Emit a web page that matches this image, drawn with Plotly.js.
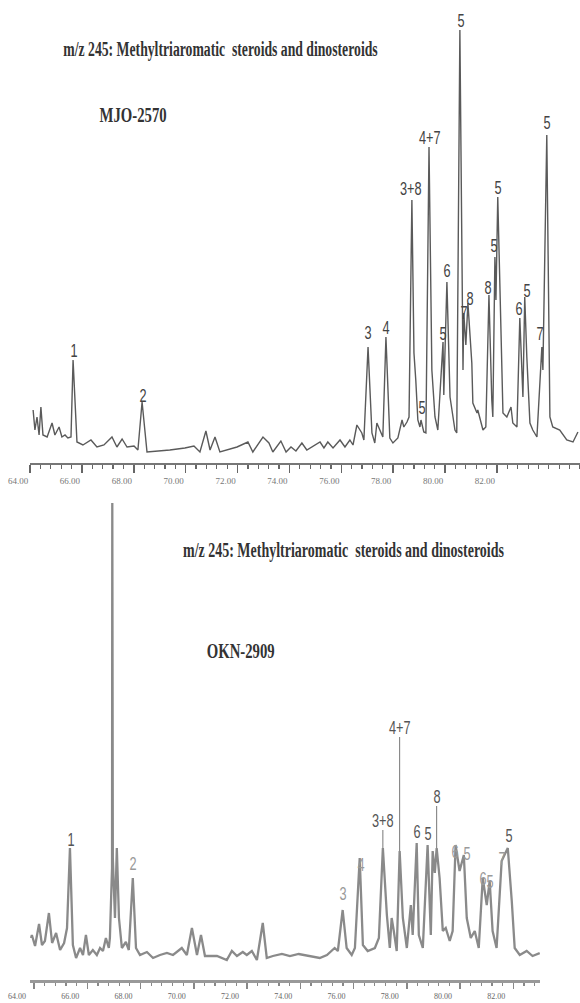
<!DOCTYPE html>
<html>
<head>
<meta charset="utf-8">
<script src="https://cdn.plot.ly/plotly-3.0.1.min.js"></script>
<style>
html,body{margin:0;padding:0;background:#fff;}
#chart{width:580px;height:1003px;}
</style>
</head>
<body>
<div id="chart"></div>
<script>
// ---------- DATA ----------
// Sample MJO-2570: retention time (min) and relative abundance (arbitrary units)
const topTime = [64.12,64.19,64.27,64.35,64.42,64.50,64.66,64.85,64.96,65.12,65.23,65.35,65.46,65.58,65.66,65.81,66.04,66.35,66.58,66.85,67.16,67.35,67.55,67.74,68.01,68.16,68.32,68.51,69.39,69.97,70.32,70.55,70.78,70.94,71.13,71.32,71.98,72.40,72.59,72.98,73.21,73.36,73.67,73.87,74.06,74.25,74.48,74.67,75.18,75.33,75.48,75.68,75.95,76.14,76.33,76.45,76.60,76.79,76.87,77.03,77.18,77.29,77.37,77.49,77.60,77.72,77.87,77.99,78.18,78.34,78.41,78.53,78.61,78.72,78.80,78.87,78.95,79.03,79.07,79.18,79.26,79.38,79.49,79.61,79.72,79.92,79.95,80.07,80.19,80.38,80.45,80.57,80.69,80.72,80.80,80.88,81.03,81.07,81.23,81.26,81.34,81.46,81.57,81.69,81.80,81.84,81.92,81.96,82.03,82.15,82.23,82.38,82.54,82.61,82.77,82.88,83.00,83.07,83.15,83.27,83.38,83.54,83.73,83.77,83.92,84.04,84.15,84.42,84.50,84.69,84.93,85.12];
const topAbund = [53,33,46,28,56,28,26,40,28,36,26,28,25,26,103,21,18,23,16,18,26,16,24,16,17,13,61,11,13,15,17,11,32,13,26,11,16,21,11,26,20,11,22,11,16,12,20,13,21,15,21,15,23,16,23,18,38,30,23,116,30,20,40,33,26,126,25,20,25,43,36,41,46,263,110,83,43,36,43,31,30,316,93,46,33,121,68,181,66,33,30,433,93,150,118,160,100,60,50,53,46,33,36,168,63,46,206,163,266,123,50,46,56,40,36,145,66,166,106,40,33,26,116,93,328,46,36,33,30,23,21,31];

// Sample OKN-2909
const botTime = [63.89,63.92,64.04,64.19,64.30,64.41,64.56,64.68,64.83,64.98,65.13,65.24,65.35,65.46,65.58,65.73,65.84,65.95,66.06,66.21,66.36,66.48,66.59,66.70,66.81,66.85,66.93,66.94,66.96,67.04,67.11,67.19,67.30,67.45,67.56,67.71,67.83,67.98,68.24,68.47,68.73,68.99,69.22,69.55,69.74,69.93,70.12,70.27,70.42,70.87,71.24,71.43,71.62,71.84,71.99,72.18,72.37,72.59,72.74,72.97,73.31,73.61,73.94,74.36,74.73,75.00,75.29,75.41,75.59,75.74,75.93,76.05,76.23,76.35,76.53,76.80,76.95,77.10,77.25,77.36,77.43,77.51,77.62,77.73,77.85,78.00,78.15,78.22,78.37,78.45,78.60,78.78,78.90,78.97,79.05,79.12,79.23,79.35,79.46,79.61,79.72,79.83,79.98,80.14,80.25,80.40,80.55,80.70,80.85,81.00,81.11,81.22,81.37,81.56,81.67,81.79,81.94,82.05,82.24,82.50,82.72,82.99];
const botAbund = [42,45,34,56,35,39,67,37,47,30,37,52,132,35,22,32,25,45,25,30,25,32,29,42,32,42,112,477,122,62,132,62,32,38,30,102,32,25,28,22,25,27,25,32,25,52,25,45,24,24,20,29,24,28,25,29,20,57,22,24,26,24,26,24,22,25,32,29,70,32,25,32,122,35,29,32,42,132,65,32,62,49,29,129,62,32,75,45,137,45,32,135,45,129,107,132,102,49,52,39,49,135,109,125,62,42,49,32,102,75,99,49,32,119,125,132,79,32,25,29,24,27];

// Axis tick labels (minutes)
const tickVals = [64,66,68,70,72,74,76,78,80,82];
const tickText = ['64.00','66.00','68.00','70.00','72.00','74.00','76.00','78.00','80.00','82.00'];

// Peak labels, MJO-2570 (label text, time, abundance of label centre)
const topPeakText  = ['1','2','3','4','3+8','5','4+7','5','6','5','7','8','8','5','5','6','5','7','5'];
const topPeakTime  = [65.70,68.35,77.03,77.72,78.68,79.11,79.41,79.92,80.07,80.61,80.72,80.96,81.65,81.88,82.03,82.84,83.15,83.65,83.92];
const topPeakAbund = [113,68,131,136,275,56,326,130,193,443,151,165,176,218,276,155,173,130,341];

// Peak labels, OKN-2909 (plain)
const botPeakText  = ['1','2','3','4','6','5','6','5','6','5','7','5'];
const botPeakTime  = [65.39,67.71,75.59,76.27,78.37,78.78,79.80,80.25,80.85,81.11,81.56,81.82];
const botPeakAbund = [141,117,87,116,149,147,129,127,102,99,122,145];
const botPeakDark  = [true,false,false,false,true,true,false,false,false,false,false,true];
// Peak labels with stems, OKN-2909 (text, peak time, peak abundance)
const botStemText  = ['3+8','4+7','8'];
const botStemTime  = [77.10,77.73,79.12];
const botStemAbund = [132,129,132];

// ---------- CHART ----------
const W = 580, H = 1003;
const py = p => 1 - p / H;
const px = p => p / W;

const traces = [
  {x: topTime, y: topAbund, xaxis:'x', yaxis:'y', type:'scatter', mode:'lines',
   line:{color:'#5a5a5a', width:1.4}, hoverinfo:'skip'},
  {x: botTime, y: botAbund, xaxis:'x2', yaxis:'y2', type:'scatter', mode:'lines',
   line:{color:'#8a8a8a', width:2.3}, hoverinfo:'skip'}
];

const tickFont = {family:'"Liberation Serif", "Times New Roman", serif', size:9, color:'#777'};
const serif = '"Liberation Serif", "Times New Roman", serif';
const annotations = [];
const scales = [];
function addTitle(x, y, text, size, sx){
  annotations.push({xref:'paper', yref:'paper', x:px(x), y:py(y), xanchor:'center', yanchor:'middle', text:text,
    showarrow:false, font:{family:serif, size:size, color:'#333', weight:'bold'}});
  scales.push([sx, 1]);
}
addTitle(220, 50, 'm/z 245: Methyltriaromatic  steroids and dinosteroids', 20, 0.686);
addTitle(133, 115, 'MJO-2570', 22, 0.67);
addTitle(343, 550, 'm/z 245: Methyltriaromatic  steroids and dinosteroids', 20, 0.70);
addTitle(240, 650, 'OKN-2909', 22, 0.67);

const labFont = (c) => ({family:'"Liberation Sans Narrow", "Liberation Sans", Arial, sans-serif', size:15, color:c});
const labScale = [0.85, 1.25];
topPeakText.forEach((t,i) => { annotations.push({xref:'x', yref:'y', x:topPeakTime[i], y:topPeakAbund[i], text:t,
  xanchor:'center', yanchor:'middle', showarrow:false, font:labFont('#444')}); scales.push(labScale); });
botPeakText.forEach((t,i) => { annotations.push({xref:'x2', yref:'y2', x:botPeakTime[i], y:botPeakAbund[i], text:t,
  xanchor:'center', yanchor:'middle', showarrow:false, font:labFont(botPeakDark[i] ? '#555' : '#9a9a9a')}); scales.push(labScale); });
const stemLen = [-28,-124,-52];
botStemText.forEach((t,i) => { annotations.push({xref:'x2', yref:'y2', x:botStemTime[i], y:botStemAbund[i], text:t,
  showarrow:true, arrowhead:0, arrowwidth:1, arrowcolor:'#777', ax:0, ay:stemLen[i], standoff:0, startstandoff:0,
  font:labFont('#555')}); scales.push(labScale); });

const layout = {
  width:W, height:H, margin:{l:0,r:0,t:0,b:0}, showlegend:false,
  paper_bgcolor:'#fff', plot_bgcolor:'rgba(0,0,0,0)',
  xaxis:{domain:[px(30),1], range:[64,85.2], anchor:'y', showgrid:false, zeroline:false,
    showline:true, linecolor:'#777', linewidth:2, ticks:'outside', ticklen:8, tickwidth:1.5, tickcolor:'#666',
    tickmode:'array', tickvals:tickVals, ticktext:tickText, ticklabelshift:-12, tickfont:tickFont,
    minor:{tick0:64, dtick:0.4, ticks:'outside', ticklen:4, tickwidth:1.2, tickcolor:'#666', showgrid:false}},
  yaxis:{domain:[py(463),1], range:[0,463], anchor:'x', visible:false, fixedrange:true},
  xaxis2:{domain:[px(30),px(540)], range:[63.85,83.0], anchor:'y2', showgrid:false, zeroline:false,
    showline:true, linecolor:'#999', linewidth:3, ticks:'outside', ticklen:6, tickwidth:1.5, tickcolor:'#888',
    tickmode:'array', tickvals:tickVals, ticktext:tickText, ticklabelshift:-17, ticklabelstandoff:0,
    tickfont:{family:serif, size:8, color:'#666'},
    minor:{tick0:64, dtick:0.4, ticks:'outside', ticklen:3, tickwidth:1.2, tickcolor:'#888', showgrid:false}},
  yaxis2:{domain:[py(980),py(420)], range:[0,560], anchor:'x2', visible:false, fixedrange:true},
  annotations: annotations
};

function squeeze(){
  const groups = document.querySelectorAll('#chart g.annotation');
  groups.forEach((g, i) => {
    const s = scales[i];
    const t = g.querySelector('text');
    if (!s || !t) return;
    t.style.transformBox = 'fill-box';
    t.style.transformOrigin = 'center';
    t.style.transform = 'scale(' + s[0] + ',' + s[1] + ')';
  });
}

Plotly.newPlot('chart', traces, layout, {staticPlot:true, displayModeBar:false}).then(squeeze);
</script>
</body>
</html>
